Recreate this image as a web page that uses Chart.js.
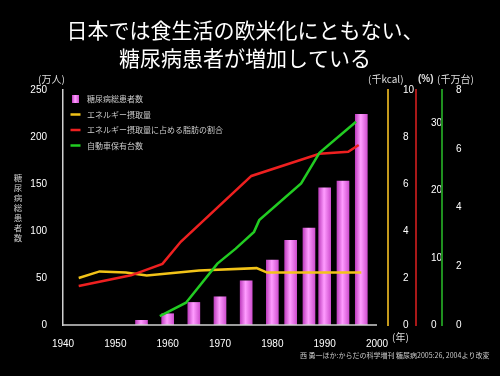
<!DOCTYPE html>
<html>
<head>
<meta charset="utf-8">
<script src="https://cdn.jsdelivr.net/npm/chart.js@4.4.1/dist/chart.umd.min.js"></script>
<style>
  html, body { margin: 0; padding: 0; background: #000; }
  #wrap { width: 500px; height: 376px; }
</style>
</head>
<body>
<div id="wrap"><canvas id="chart"></canvas></div>
<script>
// 糖尿病総患者数（万人）
const barYears = [1955, 1960, 1965, 1970, 1975, 1980, 1983.5, 1987, 1990, 1993.5, 1997];
const patients = [5, 12, 24, 30, 47, 69, 90, 103, 146, 153, 224];
// エネルギー摂取量（千kcal）
const energyYears = [1943, 1947, 1952, 1956, 1966, 1977, 1979, 1997];
const energy = [2.0, 2.28, 2.23, 2.11, 2.32, 2.42, 2.23, 2.23];
// 脂肪の割合（%）
const fatYears = [1943, 1953, 1959, 1962.5, 1976, 1989, 1994.5, 1996.5];
const fatRatio = [5.8, 7.4, 9.1, 12.4, 22.2, 25.5, 25.8, 26.8];
// 自動車保有台数（千万台）
const carYears = [1958.5, 1963.5, 1969.5, 1973, 1976.5, 1977.5, 1985.5, 1989, 1996];
const cars = [0.3, 0.76, 2.09, 2.6, 3.17, 3.57, 4.82, 5.86, 6.92];

// 目盛り
const yearTicks = [1940, 1950, 1960, 1970, 1980, 1990, 2000];
const patientTicks = [0, 50, 100, 150, 200, 250];
const energyTicks = [0, 2, 4, 6, 8, 10];
const fatTicks = [0, 10, 20, 30];
const carTicks = [0, 2, 4, 6, 8];

const seriesNames = ['糖尿病総患者数', 'エネルギー摂取量', 'エネルギー摂取量に占める脂肪の割合', '自動車保有台数'];

const NUM_FONT = "'Liberation Sans', Arial, sans-serif";
const JP_FONT = "'Noto Sans CJK JP', sans-serif";

const pts = (xs, ys) => xs.map((x, i) => ({ x: x, y: ys[i] }));
const setTicks = arr => scale => { scale.ticks = arr.map(v => ({ value: v })); };

function barGradient(ctx, cx, w) {
    const g = ctx.createLinearGradient(cx - w / 2, 0, cx + w / 2, 0);
    g.addColorStop(0, '#c040c0');
    g.addColorStop(0.45, '#ff9cff');
    g.addColorStop(1, '#d050d0');
    return g;
}

// タイトルや凡例などの文字
const decorations = {
    id: 'decorations',
    afterDraw(chart) {
        const ctx = chart.ctx;
        const xs = chart.scales.x;
        const area = chart.chartArea;
        ctx.save();

        // x軸の線（2000年まで）
        ctx.strokeStyle = '#d0d0d0';
        ctx.lineWidth = 1.5;
        ctx.beginPath();
        ctx.moveTo(area.left, area.bottom);
        ctx.lineTo(xs.getPixelForValue(2000), area.bottom);
        ctx.stroke();

        // タイトル
        ctx.fillStyle = '#fff';
        ctx.textAlign = 'center';
        ctx.textBaseline = 'middle';
        ctx.font = '21px ' + JP_FONT;
        ctx.fillText('日本では食生活の欧米化にともない、', 245, 30);
        ctx.fillText('糖尿病患者が増加している', 245, 58);

        // 単位
        ctx.fillStyle = '#ddd';
        ctx.font = '10px ' + JP_FONT;
        ctx.textAlign = 'left';
        ctx.fillText('(万人)', 38, 79);
        ctx.fillText('(千kcal)', 368, 79);
        ctx.fillText('(千万台)', 437, 79);
        ctx.fillText('(年)', 392, 337);
        ctx.font = 'bold 10px ' + NUM_FONT;
        ctx.fillText('(%)', 418, 79);

        // 縦書きの軸タイトル
        ctx.fillStyle = '#ccc';
        ctx.font = '8.5px ' + JP_FONT;
        ctx.textAlign = 'center';
        const vt = '糖尿病総患者数';
        for (let i = 0; i < vt.length; i++) {
            ctx.fillText(vt[i], 18, 178 + i * 10);
        }

        // 凡例
        ctx.textAlign = 'left';
        ctx.font = '8px ' + JP_FONT;
        const rows = [99, 114.5, 130, 145.5];
        chart.data.datasets.forEach((ds, i) => {
            const y = rows[i];
            if (i === 0) {
                ctx.fillStyle = barGradient(ctx, 75.5, 7);
                ctx.fillRect(72, y - 4, 7, 8);
            } else {
                ctx.strokeStyle = ds.borderColor;
                ctx.lineWidth = 2.5;
                ctx.beginPath();
                ctx.moveTo(70.5, y);
                ctx.lineTo(80.5, y);
                ctx.stroke();
            }
            ctx.fillStyle = '#ccc';
            ctx.fillText(ds.label, 87, y);
        });

        // 出典
        ctx.fillStyle = '#ccc';
        ctx.font = '7px ' + JP_FONT;
        ctx.fillText('西 勇一ほか:からだの科学増刊 糖尿病2005:26, 2004より改変', 300, 355);
        ctx.restore();
    }
};

const tickFont = { family: NUM_FONT, size: 10 };

new Chart(document.getElementById('chart'), {
    type: 'bar',
    data: {
        datasets: [{
            type: 'bar',
            label: seriesNames[0],
            data: pts(barYears, patients),
            yAxisID: 'y',
            barThickness: 12,
            order: 5,
            backgroundColor: c => {
                const xs = c.chart.scales.x;
                if (c.type !== 'data' || !xs) return '#f070f0';
                const cx = xs.getPixelForValue(barYears[c.dataIndex]);
                if (!isFinite(cx)) return '#f070f0';
                return barGradient(c.chart.ctx, cx, 12);
            }
        }, {
            type: 'line',
            label: seriesNames[1],
            data: pts(energyYears, energy),
            yAxisID: 'yE',
            borderColor: '#f2c318',
            borderWidth: 2.5,
            pointRadius: 0,
            tension: 0,
            order: 3
        }, {
            type: 'line',
            label: seriesNames[2],
            data: pts(fatYears, fatRatio),
            yAxisID: 'yF',
            borderColor: '#ee2020',
            borderWidth: 2.5,
            pointRadius: 0,
            tension: 0,
            order: 2
        }, {
            type: 'line',
            label: seriesNames[3],
            data: pts(carYears, cars),
            yAxisID: 'yC',
            borderColor: '#22cc22',
            borderWidth: 2.5,
            pointRadius: 0,
            tension: 0,
            order: 1
        }]
    },
    options: {
        responsive: true,
        maintainAspectRatio: false,
        animation: false,
        layout: { padding: { top: 90, left: 0, right: 0, bottom: 0 } },
        plugins: {
            legend: { display: false },
            title: { display: false },
            tooltip: { enabled: false }
        },
        scales: {
            x: {
                type: 'linear',
                offset: false,
                min: 1940,
                max: 2002.1,
                grid: { display: false, offset: false },
                border: { display: false },
                afterBuildTicks: setTicks(yearTicks),
                afterFit: s => { s.height = 51; },
                ticks: {
                    color: '#fff', font: tickFont, padding: 5,
                    autoSkip: false, maxRotation: 0,
                    callback: v => String(v)
                }
            },
            y: {
                position: 'left',
                min: 0, max: 250,
                grid: { display: false },
                border: { display: true, color: '#d0d0d0', width: 1.5 },
                afterBuildTicks: setTicks(patientTicks),
                afterFit: s => { s.width = 63; },
                ticks: { color: '#fff', font: tickFont, padding: 8 }
            },
            yE: {
                position: 'right',
                min: 0, max: 10,
                grid: { display: false },
                border: { display: true, color: '#c49a1c', width: 2 },
                afterBuildTicks: setTicks(energyTicks),
                afterFit: s => { s.width = 28; },
                ticks: { color: '#fff', font: tickFont, padding: 7 }
            },
            yF: {
                position: 'right',
                min: 0, max: 35,
                grid: { display: false },
                border: { display: true, color: '#a81818', width: 2 },
                afterBuildTicks: setTicks(fatTicks),
                afterFit: s => { s.width = 26; },
                ticks: { color: '#fff', font: tickFont, padding: 7 }
            },
            yC: {
                position: 'right',
                min: 0, max: 8,
                grid: { display: false },
                border: { display: true, color: '#1f8f1f', width: 2 },
                afterBuildTicks: setTicks(carTicks),
                afterFit: s => { s.width = 58; },
                ticks: { color: '#fff', font: tickFont, padding: 6 }
            }
        }
    },
    plugins: [decorations]
});
</script>
</body>
</html>
